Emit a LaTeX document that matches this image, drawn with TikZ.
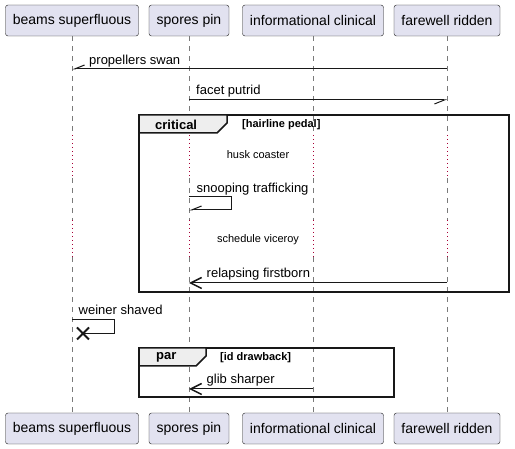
\documentclass[tikz,border=0pt]{standalone}
\usepackage{fontspec}
\setmainfont{Liberation Sans}
\usetikzlibrary{arrows.meta,shapes.misc}
\definecolor{partfill}{HTML}{E2E2F0}
\definecolor{partline}{HTML}{181818}
\definecolor{tabfill}{HTML}{EEEEEE}
\definecolor{delaydot}{HTML}{A80036}
\definecolor{lifegray}{HTML}{7A7A7A}

\begin{document}
\begin{tikzpicture}[x=1pt, y=-1pt,
  party/.style = {draw=partline, fill=partfill, rounded corners=2.5pt, minimum height=31pt, inner sep=0pt, font=\fontsize{14}{16}\selectfont},
  msg/.style = {anchor=base west, inner sep=0pt, font=\fontsize{13}{15}\selectfont},
  delaytext/.style = {inner sep=0pt, font=\fontsize{11}{13}\selectfont},
  framelabel/.style = {anchor=west, inner sep=0pt, font=\fontsize{13}{15}\selectfont\bfseries},
  guard/.style = {anchor=west, inner sep=0pt, font=\fontsize{11}{13}\selectfont\bfseries},
  lifeline/.style = {draw=lifegray, line width=0.8pt, dash pattern=on 5pt off 5pt},
  delayline/.style = {draw=delaydot, line width=1pt, dash pattern=on 1pt off 3pt},
  halfhead/.style = {draw=partline, line width=1pt, -{Straight Barb[right, length=10pt, width=8pt]}},
  fullhead/.style = {draw=partline, line width=1pt, -{Straight Barb[length=11pt, width=11pt, line width=1.5pt]}},
  plainline/.style = {draw=partline, line width=1pt},
  framebox/.style = {draw=partline, line width=1.5pt},
  destroy/.style = {cross out, draw=partline, line width=2pt, minimum size=10pt, inner sep=0pt}]

\useasboundingbox (0,0) rectangle (515,449);

% Participants
\node (beams) [party, minimum width=133pt] at (72,20.5) {beams superfluous};
\node (spores) [party, minimum width=80pt] at (189,20.5) {spores pin};
\node (informational) [party, minimum width=141pt] at (313,20.5) {informational clinical};
\node (farewell) [party, minimum width=106pt] at (447,20.5) {farewell ridden};
\node (beams-end) [party, minimum width=133pt] at (72,428.5) {beams superfluous};
\node (spores-end) [party, minimum width=80pt] at (189,428.5) {spores pin};
\node (informational-end) [party, minimum width=141pt] at (313,428.5) {informational clinical};
\node (farewell-end) [party, minimum width=106pt] at (447,428.5) {farewell ridden};

% Lifelines
\foreach \p in {beams,spores,informational,farewell}{
  \draw[lifeline] (\p.south) -- (\p |- 0,135);
  \draw[delayline] (\p |- 0,135) -- (\p |- 0,178);
  \draw[lifeline] (\p |- 0,178) -- (\p |- 0,220);
  \draw[delayline] (\p |- 0,220) -- (\p |- 0,257);
  \draw[lifeline] (\p |- 0,257) -- (\p-end.north);
}

% Frames
\draw[framebox] (139,115) rectangle (509,292);
\filldraw[framebox, fill=tabfill] (139,115) -- (227,115) -- (227,123) -- (217,133) -- (139,133) -- cycle;
\node (critical) [framelabel] at (155,124.5) {critical};
\node (hairline) [guard] at (242,125) {[hairline pedal]};
\draw[framebox] (139,348) rectangle (394,397);
\filldraw[framebox, fill=tabfill] (139,348) -- (206,348) -- (206,356) -- (196,366) -- (139,366) -- cycle;
\node (par) [framelabel] at (156,357.5) {par};
\node (drawback) [guard] at (220,357.5) {[id drawback]};

% Labels
\node (swan) [msg] at (89,64.5) {propellers swan};
\node (putrid) [msg] at (196,95) {facet putrid};
\node (husk) [delaytext] at (258,155) {husk coaster};
\node (snooping) [msg] at (196.5,192.5) {snooping trafficking};
\node (viceroy) [delaytext] at (258,240) {schedule viceroy};
\node (relapsing) [msg] at (206.5,277.5) {relapsing firstborn};
\node (weiner) [msg] at (78.5,315) {weiner shaved};
\node (glib) [msg] at (206.5,383.5) {glib sharper};
\node (weinerX) [destroy] at (83,333.5) {};

% Arrows
\draw[halfhead] (farewell |- 0,69) -- (beams |- 0,69);
\draw[halfhead] (spores |- 0,100) -- (farewell |- 0,100);
\draw[halfhead] (spores |- 0,197) -- ++(42,0) -- ++(0,13) -- (spores |- 0,210);
\draw[fullhead] (farewell |- 0,283) -- (spores |- 0,283);
\draw[plainline] (beams |- 0,320) -- ++(42,0) -- ++(0,13.5) -- (weinerX.center);
\draw[fullhead] (informational |- 0,389) -- (spores |- 0,389);
\end{tikzpicture}
\end{document}
